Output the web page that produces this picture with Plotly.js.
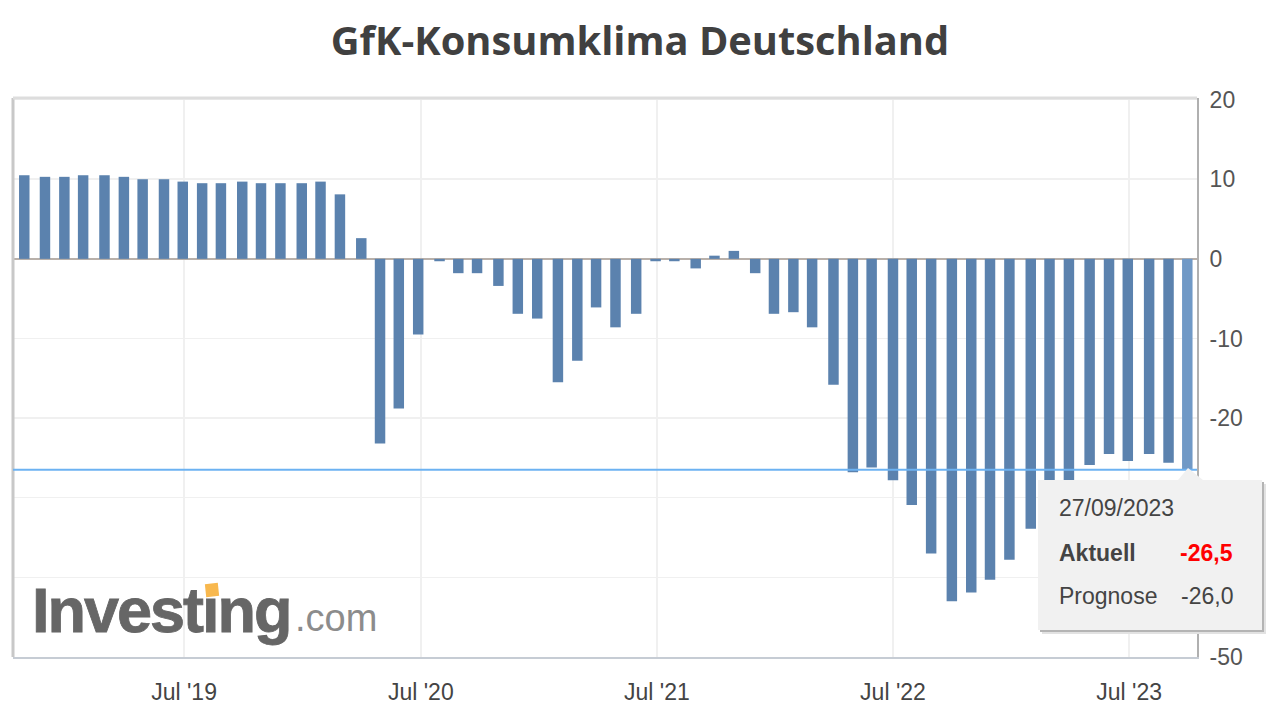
<!DOCTYPE html>
<html>
<head>
<meta charset="utf-8">
<script src="https://cdn.plot.ly/plotly-3.0.1.min.js"></script>
<style>html,body{margin:0;padding:0;background:#fff}#chart{width:1280px;height:720px}</style>
</head>
<body>
<div id="chart"></div>
<script>
const chartTitle = "GfK-Konsumklima Deutschland";
const releaseDates = [
 "2018-10-27","2018-11-28","2018-12-28","2019-01-26","2019-02-28","2019-03-30","2019-04-28","2019-05-31","2019-06-29","2019-07-29",
 "2019-08-27","2019-09-29","2019-10-28","2019-11-27","2019-12-30","2020-01-28","2020-02-27","2020-03-31","2020-04-29","2020-05-28",
 "2020-06-27","2020-07-30","2020-08-28","2020-09-26","2020-10-29","2020-11-28","2020-12-28","2021-01-29","2021-02-28","2021-03-29",
 "2021-04-28","2021-05-30","2021-06-29","2021-07-28","2021-08-30","2021-09-28","2021-10-28","2021-11-30","2021-12-29","2022-01-28",
 "2022-02-26","2022-03-31","2022-04-30","2022-05-29","2022-07-01","2022-07-30","2022-08-29","2022-09-30","2022-10-30","2022-11-28",
 "2022-12-28","2023-01-30","2023-02-28","2023-03-30","2023-05-01","2023-05-31","2023-06-29","2023-08-01","2023-08-31","2023-09-29"
];
const actualValues = [
 10.5,10.3,10.3,10.5,10.5,10.3,10.0,10.0,9.7,9.5,
 9.5,9.7,9.5,9.5,9.5,9.7,8.1,2.6,-23.2,-18.8,
 -9.5,-0.3,-1.8,-1.8,-3.4,-6.9,-7.5,-15.5,-12.8,-6.1,
 -8.6,-6.9,-0.3,-0.3,-1.2,0.4,1.0,-1.8,-6.9,-6.7,
 -8.6,-15.8,-26.8,-26.2,-27.8,-30.9,-37.0,-43.0,-41.9,-40.3,
 -37.8,-33.9,-30.6,-29.4,-25.9,-24.5,-25.4,-24.5,-25.6,-26.5
];
const yTicks = [20,10,0,-10,-20,-30,-40,-50];
const yTickLabels = ["20","10","0","-10","-20","","","-50"];
const xTickDates = ["2019-07-01","2020-07-01","2021-07-01","2022-07-01","2023-07-01"];
const xTickLabels = ["Jul '19","Jul '20","Jul '21","Jul '22","Jul '23"];
const tooltipDate = "27/09/2023";
const actualLabel = "Aktuell";
const forecastLabel = "Prognose";
const actualNow = -26.5;
const forecastNow = -26.0;

const barColor = "#5b82ae", lastBarColor = "#7099c6";
const fmt = v => v.toFixed(1).replace(".", ",");

// page pixel -> paper coordinate, for the decorations only
const L = 13, R = 1197, T = 98, B = 657;
const px = x => (x - L) / (R - L);
const py = y => (B - y) / (B - T);
const ttFont = {family: "Liberation Sans, Arial, sans-serif", size: 23, color: "#444"};
const note = (text, x, y, anchor, font) => ({
  text, xref: "paper", yref: "paper", x: px(x), y: py(y), xanchor: anchor, yanchor: "middle",
  showarrow: false, font, borderpad: 0
});
const box = (x0, y0, x1, y1, fill) => ({
  type: "rect", xref: "paper", yref: "paper", x0: px(x0), x1: px(x1), y0: py(y0), y1: py(y1),
  fillcolor: fill, line: {width: 0}, layer: "above"
});
const rule = (x0, y0, x1, y1, color, width) => ({
  type: "line", xref: "paper", yref: "paper", x0: px(x0), x1: px(x1), y0: py(y0), y1: py(y1),
  line: {color, width}, layer: "above"
});
const tri = (pts, fill) => ({
  type: "path", xref: "paper", yref: "paper",
  path: "M" + pts.map(p => px(p[0]) + "," + py(p[1])).join(" L") + " Z",
  fillcolor: fill, line: {width: 0}, layer: "above"
});

const data = [{
  type: "bar",
  x: releaseDates,
  y: actualValues,
  width: 16.2 * 86400000,
  marker: {color: actualValues.map((v, i) => i === actualValues.length - 1 ? lastBarColor : barColor), line: {width: 0}},
  hoverinfo: "skip"
}];

const layout = {
  width: 1280, height: 720,
  margin: {l: L, r: 1280 - R, t: T, b: 720 - B, pad: 0},
  paper_bgcolor: "#fff", plot_bgcolor: "#fff",
  showlegend: false,
  title: {
    text: "<b>" + chartTitle + "</b>",
    font: {family: "Open Sans, sans-serif", size: 39.8, color: "#404040"},
    x: 0.5, xref: "container", xanchor: "center",
    y: 1 - 41 / 720, yref: "container", yanchor: "middle"
  },
  xaxis: {
    type: "date",
    range: ["2018-10-09 14:00", "2023-10-14"],
    tickmode: "array", tickvals: xTickDates, ticktext: xTickLabels,
    tickfont: {family: "Liberation Sans, Arial, sans-serif", size: 23, color: "#444"},
    ticks: "outside", ticklen: 13, tickcolor: "rgba(0,0,0,0)",
    showgrid: true, gridcolor: "#f0f0f0", gridwidth: 1.5,
    showline: true, linecolor: "#c6ccd4", linewidth: 2,
    zeroline: false, fixedrange: true
  },
  yaxis: {
    side: "right",
    range: [-50, 20.2],
    tickmode: "array", tickvals: yTicks, ticktext: yTickLabels,
    tickfont: {family: "Liberation Sans, Arial, sans-serif", size: 23, color: "#555"},
    ticks: "outside", ticklen: 6, tickcolor: "rgba(0,0,0,0)",
    showgrid: true, gridcolor: "#f0f0f0", gridwidth: 1.5,
    showline: true, linecolor: "#b0b0b0", linewidth: 2,
    zeroline: true, zerolinecolor: "#b8b0aa", zerolinewidth: 2,
    fixedrange: true
  },
  shapes: [
    rule(L, T, L, B, "#c8c8c8", 3),
    rule(L, T, R, T, "#dddddd", 3),
    {type: "line", xref: "paper", yref: "y", x0: 0, x1: 1, y0: actualNow, y1: actualNow,
     line: {color: "#6cb2f2", width: 2}, layer: "above"},
    box(1042, 484, 1266, 634, "#e2e2e2"),
    box(1040, 482, 1264, 632, "#b4b4b4"),
    box(1038, 480, 1262, 630, "#f1f1f1"),
    tri([[1178, 480], [1188, 468], [1203, 480]], "#f1f1f1")
  ],
  annotations: [
    note(tooltipDate, 1058, 508, "left", ttFont),
    note("<b>" + actualLabel + "</b>", 1058, 553, "left", ttFont),
    note("<b>" + fmt(actualNow) + "</b>", 1234, 553, "right", {...ttFont, color: "#ff0000"}),
    note(forecastLabel, 1058, 596, "left", ttFont),
    note(fmt(forecastNow), 1234, 596, "right", ttFont),
    note("<b>Investing</b>", 22, 610, "left", {family: "Liberation Sans, Arial, sans-serif", size: 63, color: "#666666"}),
    note(".com", 294, 618, "left", {family: "Liberation Sans, Arial, sans-serif", size: 38, color: "#8c8c8c"}),
    {text: " ", xref: "paper", yref: "paper", x: px(212), y: py(590), xanchor: "center", yanchor: "middle",
     showarrow: false, width: 12, height: 12, bgcolor: "#f8b84e", borderpad: 0, textangle: -6, font: {size: 8}}
  ]
};

Plotly.newPlot("chart", data, layout, {staticPlot: true, displayModeBar: false}).then(() => {
  document.querySelectorAll(".annotation-text").forEach(t => {
    if (t.textContent === "Investing") {
      t.style.letterSpacing = "-2px";
      t.style.stroke = "#666666";
      t.style.strokeWidth = "0.8px";
    }
  });
});
</script>
</body>
</html>
